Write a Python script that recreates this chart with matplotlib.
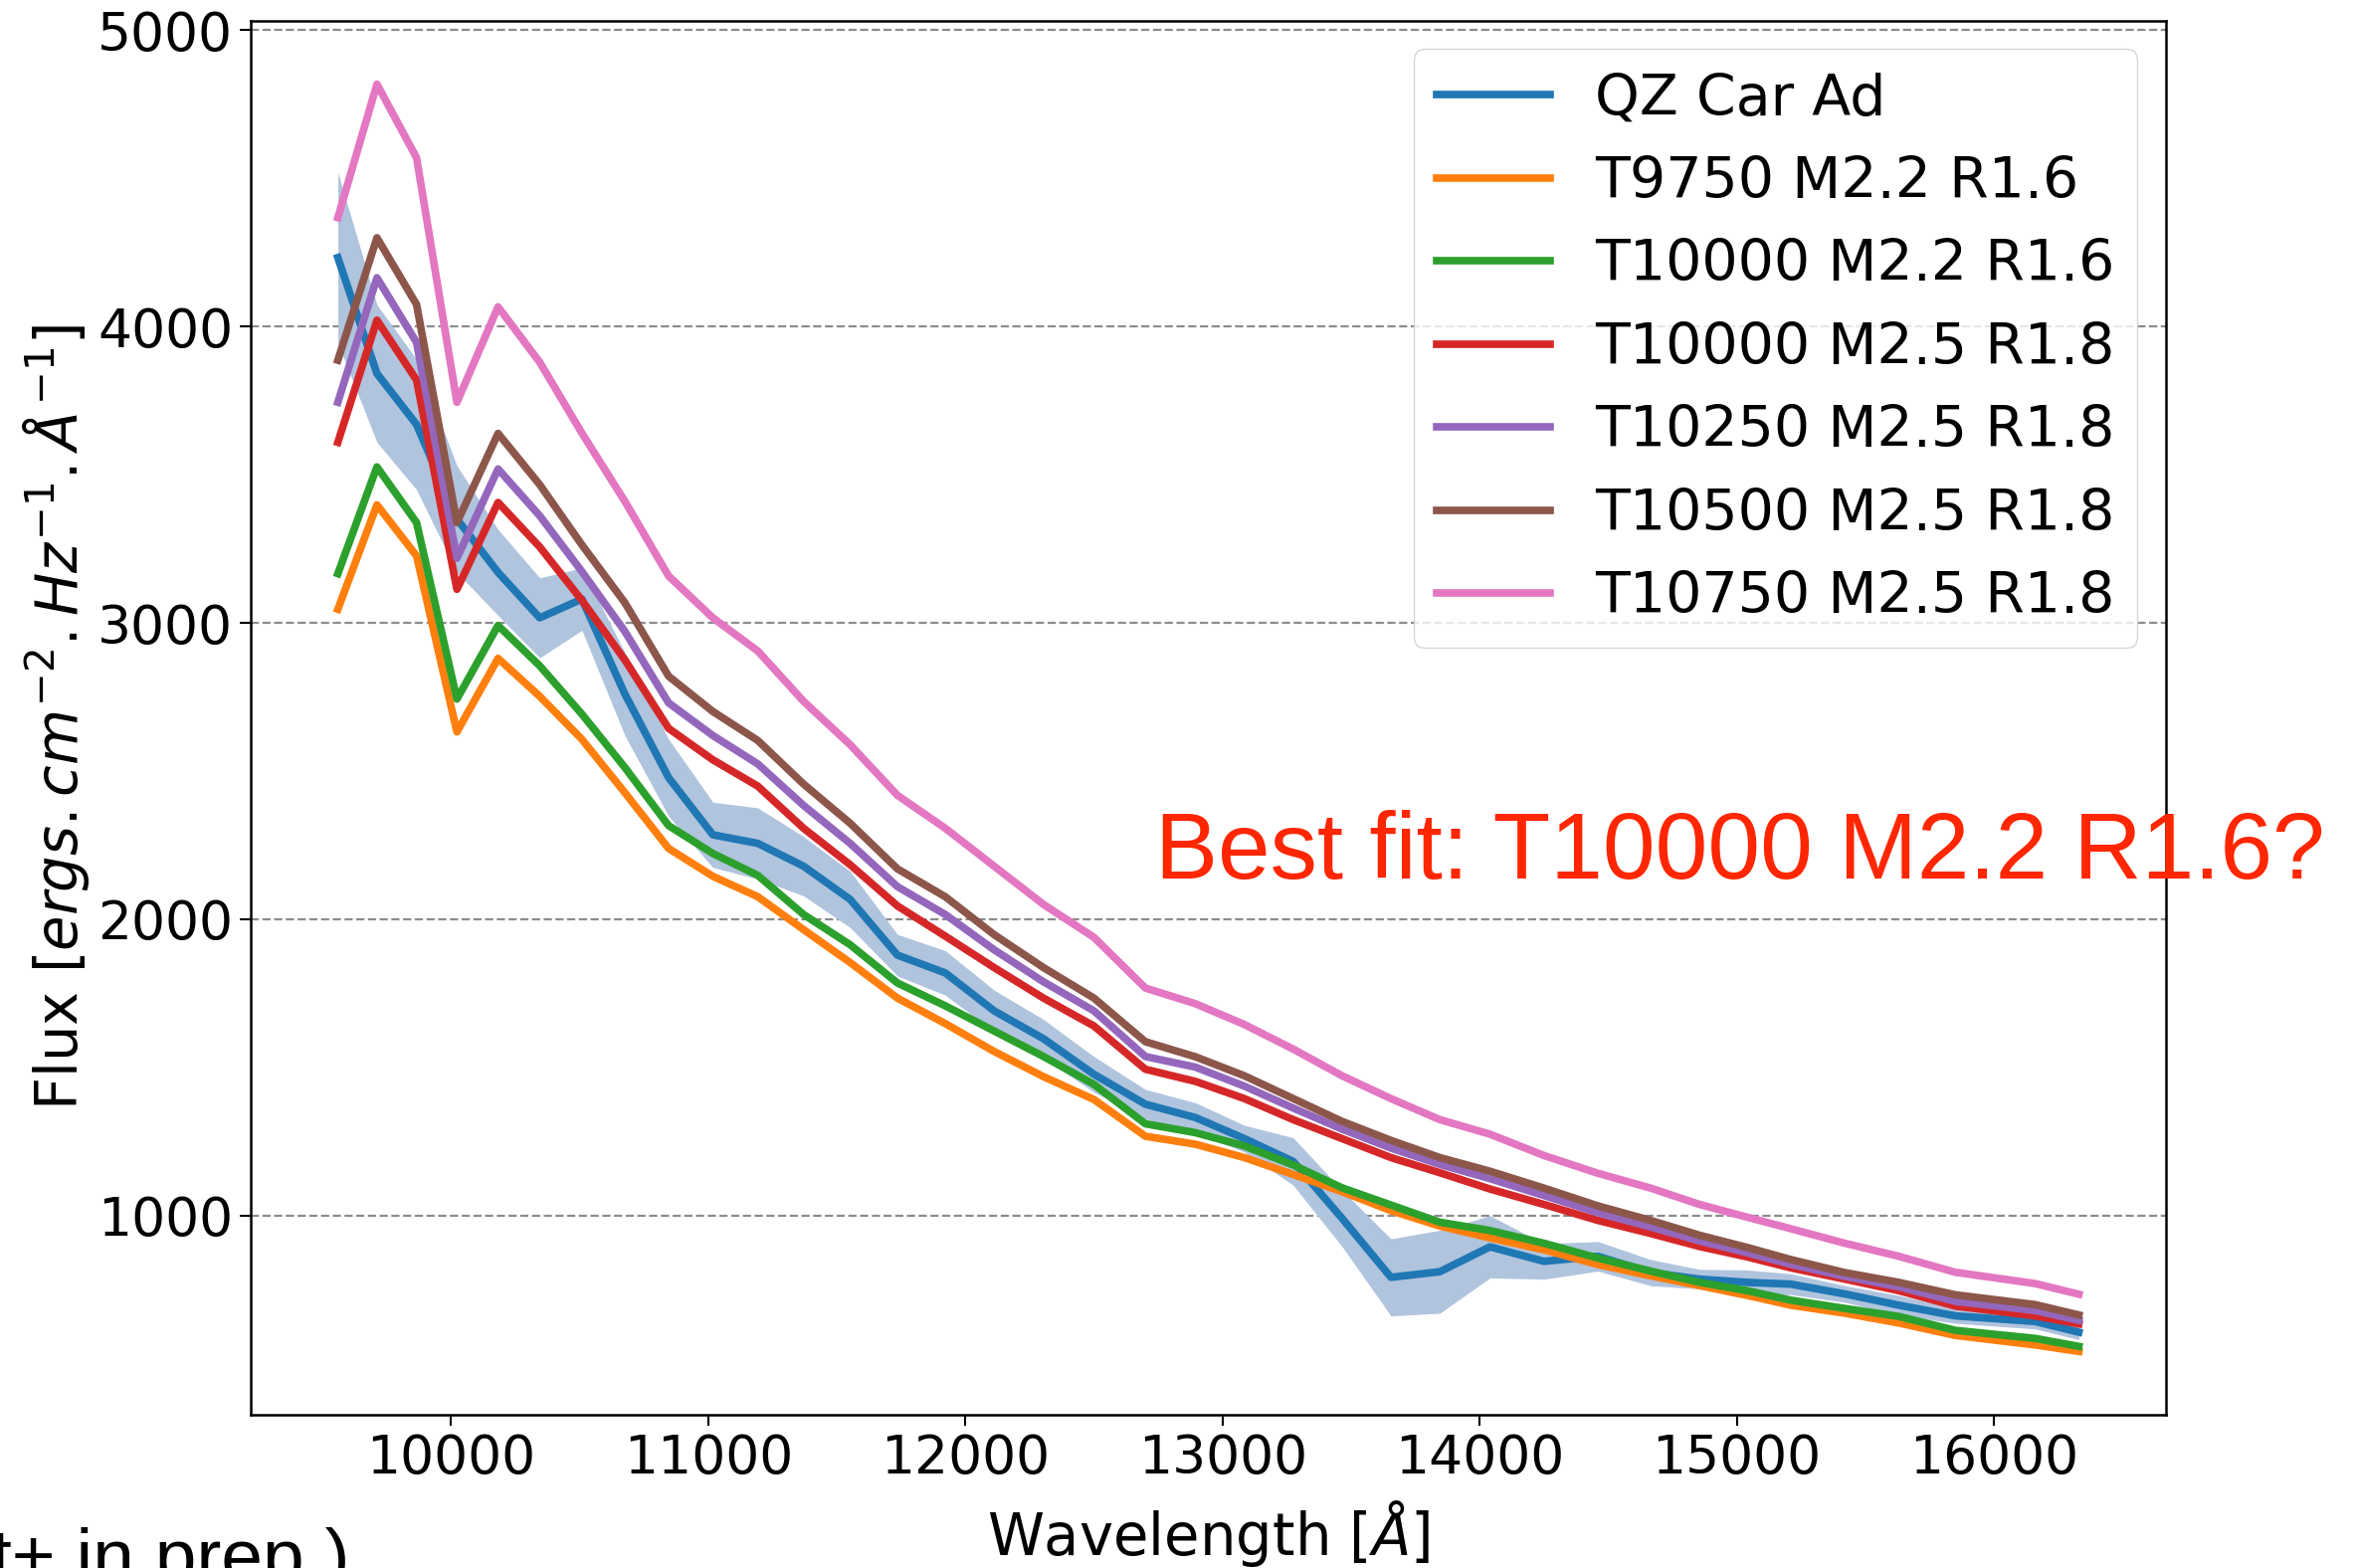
import numpy as np
import matplotlib
matplotlib.use('Agg')
import matplotlib.pyplot as plt

# wavelength grid [A]
wave = [9560, 9712, 9866, 10023, 10183, 10345, 10509, 10676, 10846, 11018,
        11193, 11371, 11552, 11736, 11922, 12112, 12304, 12500, 12700, 12895,
        13085, 13275, 13465, 13655, 13845, 14040, 14250, 14460, 14665, 14855,
        15040, 15210, 15420, 15630, 15850, 16160, 16330]

# observed SED and its uncertainty
qzcar = [4232, 3841, 3669, 3350, 3170, 3017, 3080, 2760, 2478, 2285,
         2256, 2179, 2067, 1879, 1819, 1691, 1597, 1477, 1376, 1331,
         1260, 1183, 991, 792, 811, 895, 846, 863, 808, 786,
         775, 769, 736, 698, 662, 643, 607]
qzcar_err = [288, 232, 220, 180, 145, 135, 105, 140, 130, 110,
             120, 100, 95, 70, 75, 70, 65, 60, 50, 50,
             45, 80, 95, 130, 140, 105, 60, 50, 44, 33,
             42, 35, 28, 33, 25, 25, 25]

# model SEDs
t9750_m22 = [3046, 3398, 3226, 2632, 2880, 2752, 2607, 2427, 2239, 2145,
             2076, 1965, 1854, 1734, 1648, 1554, 1469, 1392, 1268, 1241,
             1196, 1139, 1081, 1017, 965, 925, 885, 835, 797, 764,
             731, 698, 671, 638, 596, 564, 542]
t10000_m22 = [3166, 3526, 3338, 2743, 2991, 2855, 2692, 2512, 2316, 2222,
              2148, 2016, 1914, 1785, 1708, 1623, 1537, 1443, 1310, 1280,
              1235, 1171, 1094, 1036, 978, 950, 907, 857, 813, 775,
              747, 715, 687, 660, 613, 586, 559]
t10000_m25 = [3609, 4021, 3819, 3113, 3406, 3256, 3076, 2875, 2644, 2538,
              2449, 2307, 2184, 2045, 1943, 1837, 1734, 1640, 1494, 1453,
              1395, 1324, 1260, 1196, 1145, 1090, 1038, 984, 940, 896,
              861, 824, 786, 747, 695, 662, 635]
t10250_m25 = [3744, 4164, 3946, 3218, 3519, 3361, 3173, 2971, 2730, 2620,
              2524, 2384, 2256, 2110, 2016, 1897, 1789, 1691, 1537, 1501,
              1437, 1363, 1292, 1228, 1173, 1125, 1068, 1010, 962, 915,
              875, 836, 795, 760, 711, 680, 647]
t10500_m25 = [3886, 4299, 4074, 3338, 3639, 3466, 3263, 3068, 2820, 2701,
              2603, 2456, 2324, 2170, 2076, 1948, 1837, 1734, 1587, 1536,
              1472, 1395, 1318, 1254, 1196, 1150, 1093, 1033, 984, 934,
              893, 852, 808, 775, 733, 700, 665]
t10750_m25 = [4367, 4817, 4569, 3744, 4066, 3879, 3640, 3410, 3158, 3017,
              2905, 2735, 2589, 2418, 2307, 2179, 2050, 1939, 1768, 1715,
              1645, 1562, 1472, 1395, 1324, 1275, 1203, 1143, 1093, 1038,
              995, 956, 907, 863, 809, 771, 735]

models = [t9750_m22, t10000_m22, t10000_m25, t10250_m25, t10500_m25, t10750_m25]
model_names = ['T9750 M2.2 R1.6', 'T10000 M2.2 R1.6', 'T10000 M2.5 R1.8',
               'T10250 M2.5 R1.8', 'T10500 M2.5 R1.8', 'T10750 M2.5 R1.8']
colors = ['tab:orange', 'tab:green', 'tab:red', 'tab:purple', 'tab:brown', 'tab:pink']

plt.rcParams['font.family'] = ['DejaVu Sans']

fig = plt.figure(figsize=(23.67, 15.76), dpi=100)
ax = fig.add_axes([0.1065, 0.0977, 0.8132, 0.889])

x = np.array(wave)
f = np.array(qzcar)
e = np.array(qzcar_err)
ax.fill_between(x, f - e, f + e, color='lightsteelblue', lw=0)
ax.plot(x, f, color='tab:blue', lw=5.5, label='QZ Car Ad')
for m, name, c in zip(models, model_names, colors):
    ax.plot(x, m, color=c, lw=5.5, label=name)

ax.yaxis.grid(True, linestyle='--', color='grey', lw=1.6, alpha=0.9)
ax.set_axisbelow(True)
ax.tick_params(labelsize=38.5, length=8, width=1.5, pad=5)
for s in ax.spines.values():
    s.set_linewidth(1.8)

ax.set_xlabel(r'Wavelength [$\AA$]', fontsize=41.5, labelpad=10)
ax.set_ylabel(r'Flux [$ergs.cm^{-2}.Hz^{-1}.\AA^{-1}$]', fontsize=41.5)
ax.legend(loc='upper right', fontsize=41, handlelength=2.0, labelspacing=0.5)

fig.text(0.4905, 0.4397, 'Best fit: T10000 M2.2 R1.6?', color='#ff2600',
         fontsize=68, family='Liberation Sans', ha='left', va='baseline')
fig.text(0.1487, -0.008, 't+ in prep.)', color='black', fontsize=54,
         family='Liberation Sans', ha='right', va='baseline')

fig.savefig('out.png', dpi=100)
